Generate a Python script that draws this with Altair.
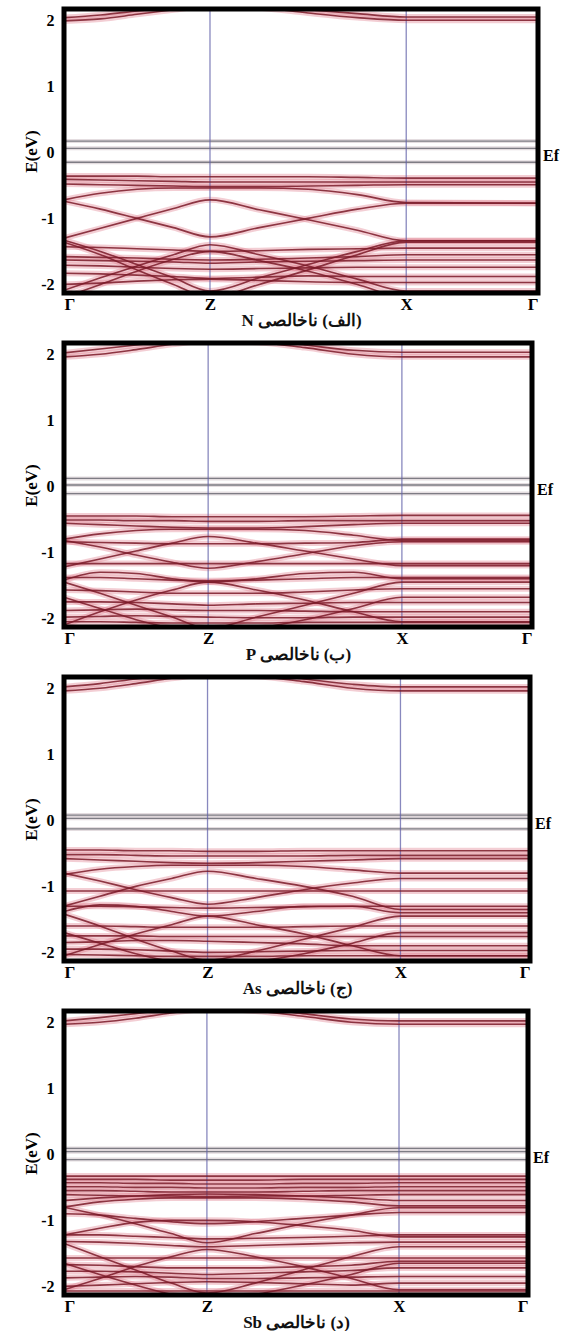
import altair as alt
import pandas as pd

# k-path sample positions (Γ ... Z ... X, then flat to Γ)
K = [0.0, 0.077, 0.154, 0.231, 0.308, 0.412, 0.515, 0.619, 0.722, 1.0]
K_TICKS = [0.0, 0.308, 0.722, 1.0]
K_NAMES = ["Γ", "Z", "X", "Γ"]
Y_TICKS = [-2, -1, 0, 1, 2]

# ---------- panel (الف) N ----------
N_GRAY = [0.17, 0.06, -0.15]
N_COND = [
    [2.04, 2.08, 2.14, 2.20, 2.25, 2.22, 2.16, 2.10, 2.05, 2.05],
    [1.99, 2.02, 2.09, 2.16, 2.22, 2.19, 2.11, 2.04, 2.00, 2.00],
]
N_BANDS = [
    [-0.36, -0.36, -0.36, -0.37, -0.37, -0.37, -0.37, -0.38, -0.39, -0.39],
    [-0.41, -0.42, -0.43, -0.44, -0.45, -0.45, -0.45, -0.45, -0.45, -0.45],
    [-0.48, -0.49, -0.50, -0.51, -0.52, -0.52, -0.51, -0.50, -0.49, -0.49],
    [-0.72, -0.62, -0.56, -0.54, -0.54, -0.54, -0.56, -0.64, -0.76, -0.77],
    [-0.74, -0.86, -1.00, -1.14, -1.28, -1.14, -1.00, -0.86, -0.77, -0.77],
    [-1.30, -1.15, -1.00, -0.85, -0.72, -0.87, -1.02, -1.18, -1.34, -1.34],
    [-1.33, -1.50, -1.70, -1.90, -2.10, -1.90, -1.70, -1.50, -1.34, -1.34],
    [-2.09, -1.90, -1.72, -1.55, -1.40, -1.55, -1.72, -1.92, -2.10, -2.10],
    [-1.43, -1.44, -1.46, -1.48, -1.50, -1.49, -1.47, -1.46, -1.45, -1.45],
    [-1.58, -1.59, -1.60, -1.62, -1.63, -1.62, -1.60, -1.58, -1.55, -1.55],
    [-1.71, -1.72, -1.74, -1.76, -1.77, -1.76, -1.75, -1.74, -1.74, -1.74],
    [-1.83, -1.84, -1.86, -1.88, -1.91, -1.89, -1.87, -1.88, -1.88, -1.88],
    [-2.00, -1.98, -1.95, -1.93, -1.92, -1.94, -1.96, -1.97, -1.97, -1.97],
    [-1.36, -1.55, -1.78, -2.00, -2.20, -2.00, -1.78, -1.55, -1.36, -1.36],
    [-2.20, -2.00, -1.80, -1.62, -1.50, -1.64, -1.80, -2.00, -2.20, -2.20],
    [-1.63, -1.64, -1.65, -1.66, -1.68, -1.66, -1.65, -1.64, -1.63, -1.63],
]

# ---------- panel (ب) P ----------
P_GRAY = [0.12, 0.02, -0.11]
P_COND = [
    [2.02, 2.08, 2.14, 2.20, 2.25, 2.22, 2.14, 2.06, 2.03, 2.03],
    [1.96, 2.00, 2.07, 2.15, 2.20, 2.18, 2.10, 2.00, 1.96, 1.96],
]
P_BANDS = [
    [-0.45, -0.45, -0.45, -0.46, -0.46, -0.46, -0.46, -0.45, -0.44, -0.44],
    [-0.51, -0.51, -0.52, -0.52, -0.53, -0.53, -0.52, -0.52, -0.52, -0.52],
    [-0.56, -0.58, -0.60, -0.62, -0.63, -0.63, -0.61, -0.58, -0.56, -0.56],
    [-0.80, -0.72, -0.67, -0.65, -0.65, -0.65, -0.67, -0.74, -0.82, -0.82],
    [-0.82, -0.92, -1.04, -1.15, -1.24, -1.14, -1.02, -0.90, -0.84, -0.84],
    [-1.22, -1.10, -0.98, -0.86, -0.76, -0.86, -0.98, -1.10, -1.20, -1.20],
    [-0.84, -0.85, -0.86, -0.87, -0.87, -0.87, -0.86, -0.85, -0.80, -0.80],
    [-1.17, -1.17, -1.17, -1.17, -1.17, -1.17, -1.17, -1.17, -1.17, -1.17],
    [-1.42, -1.30, -1.32, -1.40, -1.45, -1.40, -1.32, -1.30, -1.40, -1.40],
    [-1.45, -1.62, -1.80, -1.98, -2.15, -1.98, -1.80, -1.62, -1.45, -1.45],
    [-2.10, -1.90, -1.72, -1.57, -1.45, -1.57, -1.72, -1.90, -2.05, -2.05],
    [-1.57, -1.58, -1.60, -1.62, -1.62, -1.62, -1.60, -1.57, -1.55, -1.55],
    [-1.75, -1.75, -1.76, -1.78, -1.80, -1.78, -1.77, -1.76, -1.76, -1.76],
    [-1.88, -1.87, -1.86, -1.87, -1.88, -1.88, -1.89, -1.90, -1.90, -1.90],
    [-1.98, -1.97, -1.96, -1.97, -1.98, -1.99, -1.99, -1.98, -1.98, -1.98],
    [-1.68, -1.85, -2.02, -2.15, -2.25, -2.15, -2.02, -1.85, -1.68, -1.68],
    [-2.05, -2.05, -2.06, -2.07, -2.07, -2.07, -2.06, -2.06, -2.06, -2.06],
    [-1.38, -1.38, -1.40, -1.42, -1.43, -1.42, -1.40, -1.38, -1.38, -1.38],
]

# ---------- panel (ج) As ----------
AS_GRAY = [0.08, 0.03, -0.13]
AS_COND = [
    [2.02, 2.07, 2.14, 2.20, 2.25, 2.22, 2.14, 2.06, 2.02, 2.02],
    [1.96, 2.00, 2.07, 2.15, 2.20, 2.18, 2.10, 2.00, 1.96, 1.96],
]
AS_BANDS = [
    [-0.45, -0.45, -0.46, -0.46, -0.47, -0.47, -0.46, -0.46, -0.46, -0.46],
    [-0.52, -0.52, -0.53, -0.54, -0.54, -0.54, -0.54, -0.53, -0.53, -0.53],
    [-0.58, -0.60, -0.62, -0.64, -0.65, -0.64, -0.62, -0.60, -0.58, -0.58],
    [-0.82, -0.74, -0.70, -0.68, -0.68, -0.68, -0.70, -0.75, -0.80, -0.80],
    [-0.80, -0.92, -1.05, -1.17, -1.27, -1.17, -1.05, -0.95, -0.88, -0.88],
    [-1.30, -1.15, -1.00, -0.88, -0.77, -0.88, -1.00, -1.15, -1.35, -1.35],
    [-1.07, -1.07, -1.07, -1.07, -1.07, -1.07, -1.07, -1.07, -1.07, -1.07],
    [-1.38, -1.28, -1.30, -1.38, -1.45, -1.38, -1.30, -1.30, -1.40, -1.40],
    [-1.42, -1.60, -1.80, -1.98, -2.12, -1.98, -1.80, -1.62, -1.45, -1.45],
    [-2.05, -1.88, -1.72, -1.58, -1.45, -1.58, -1.72, -1.90, -2.05, -2.05],
    [-1.60, -1.60, -1.61, -1.62, -1.62, -1.62, -1.61, -1.60, -1.60, -1.60],
    [-1.75, -1.75, -1.75, -1.76, -1.76, -1.76, -1.76, -1.76, -1.76, -1.76],
    [-1.85, -1.84, -1.82, -1.82, -1.83, -1.85, -1.87, -1.90, -1.90, -1.90],
    [-1.95, -1.95, -1.96, -1.98, -2.00, -1.99, -1.98, -1.97, -1.97, -1.97],
    [-1.70, -1.86, -2.02, -2.14, -2.22, -2.14, -2.02, -1.86, -1.70, -1.70],
    [-2.03, -2.04, -2.05, -2.06, -2.06, -2.06, -2.05, -2.05, -2.05, -2.05],
    [-1.30, -1.30, -1.31, -1.32, -1.33, -1.32, -1.31, -1.30, -1.30, -1.30],
]

# ---------- panel (د) Sb ----------
SB_GRAY = [0.09, 0.04, -0.08]
SB_COND = [
    [2.02, 2.07, 2.13, 2.19, 2.24, 2.21, 2.13, 2.05, 2.02, 2.02],
    [1.97, 2.00, 2.06, 2.14, 2.20, 2.17, 2.09, 2.00, 1.97, 1.97],
]
SB_BANDS = [
    [-0.33, -0.33, -0.33, -0.33, -0.33, -0.33, -0.33, -0.33, -0.33, -0.33],
    [-0.38, -0.38, -0.38, -0.39, -0.39, -0.39, -0.38, -0.38, -0.38, -0.38],
    [-0.43, -0.43, -0.44, -0.44, -0.45, -0.45, -0.44, -0.44, -0.43, -0.43],
    [-0.49, -0.49, -0.50, -0.50, -0.51, -0.51, -0.50, -0.50, -0.49, -0.49],
    [-0.55, -0.55, -0.56, -0.57, -0.57, -0.57, -0.56, -0.55, -0.55, -0.55],
    [-0.61, -0.62, -0.63, -0.63, -0.64, -0.63, -0.63, -0.62, -0.61, -0.61],
    [-0.70, -0.66, -0.63, -0.61, -0.60, -0.61, -0.63, -0.66, -0.70, -0.70],
    [-0.80, -0.72, -0.68, -0.66, -0.66, -0.66, -0.68, -0.72, -0.78, -0.78],
    [-0.80, -0.92, -1.05, -1.20, -1.34, -1.20, -1.05, -0.92, -0.81, -0.81],
    [-1.22, -1.12, -1.03, -1.00, -1.00, -1.02, -1.08, -1.15, -1.25, -1.25],
    [-0.90, -0.92, -0.97, -1.02, -1.05, -1.02, -0.97, -0.92, -0.88, -0.88],
    [-1.32, -1.33, -1.35, -1.38, -1.40, -1.38, -1.36, -1.34, -1.33, -1.33],
    [-1.35, -1.55, -1.75, -1.95, -2.10, -1.95, -1.75, -1.55, -1.40, -1.40],
    [-2.05, -1.88, -1.70, -1.55, -1.44, -1.55, -1.70, -1.88, -2.05, -2.05],
    [-1.57, -1.57, -1.57, -1.57, -1.57, -1.57, -1.57, -1.57, -1.57, -1.57],
    [-1.67, -1.68, -1.70, -1.72, -1.72, -1.72, -1.70, -1.68, -1.62, -1.62],
    [-1.77, -1.77, -1.78, -1.80, -1.82, -1.80, -1.78, -1.76, -1.72, -1.72],
    [-1.87, -1.86, -1.85, -1.86, -1.88, -1.88, -1.87, -1.86, -1.85, -1.85],
    [-2.00, -1.98, -1.96, -1.94, -1.93, -1.94, -1.96, -1.98, -1.95, -1.95],
    [-1.65, -1.82, -1.98, -2.12, -2.20, -2.12, -1.98, -1.82, -1.65, -1.65],
    [-2.07, -2.07, -2.07, -2.07, -2.07, -2.07, -2.07, -2.07, -2.07, -2.07],
    [-1.22, -1.22, -1.24, -1.26, -1.28, -1.27, -1.26, -1.24, -1.22, -1.22],
]

CAPTIONS = [
    "N \u202b(الف) ناخالصی\u202c",
    "P \u202b(ب) ناخالصی\u202c",
    "As \u202b(ج) ناخالصی\u202c",
    "Sb \u202b(د) ناخالصی\u202c",
]

SERIF = "Liberation Serif"
W = [474, 468, 466, 464]
H = 284


def panel(bands, cond, gray, caption, width):
    rows = []
    for i, b in enumerate(bands + cond):
        for k, e in zip(K, b):
            rows.append({"band": i, "k": k, "E": e})
    df = pd.DataFrame(rows)

    x = alt.X(
        "k:Q",
        scale=alt.Scale(domain=[0, 1], nice=False, zero=False),
        axis=alt.Axis(
            values=K_TICKS,
            labelExpr="datum.value < 0.1 ? 'Γ' : datum.value < 0.5 ? 'Z' : datum.value < 0.9 ? 'X' : 'Γ'",
            labelFlush=True,
            ticks=False,
            tickSize=0,
            domain=False,
            grid=False,
            labelFont=SERIF,
            labelFontSize=17,
            labelFontWeight="bold",
            labelColor="black",
            labelPadding=3,
            title=caption,
            titleFont=SERIF,
            titleFontSize=17,
            titleFontWeight="bold",
            titleColor="#111111",
            titlePadding=0,
        ),
    )
    y = alt.Y(
        "E:Q",
        scale=alt.Scale(domain=[-2.13, 2.17], nice=False, zero=False),
        axis=alt.Axis(
            values=Y_TICKS,
            labelExpr="'' + datum.value",
            ticks=False,
            tickSize=0,
            domain=False,
            grid=False,
            labelFont=SERIF,
            labelFontSize=16,
            labelFontWeight="bold",
            labelColor="black",
            labelPadding=10,
            title="E(eV)",
            titleFont=SERIF,
            titleFontSize=17,
            titleFontWeight="bold",
            titleColor="black",
            titlePadding=0,
        ),
    )

    base = alt.Chart(df).encode(x=x, y=y, detail="band:N")
    halo = base.mark_line(color="#e07f8d", strokeWidth=6, opacity=0.38,
                          interpolate="monotone", clip=True)
    core = base.mark_line(color="#7a1a28", strokeWidth=1.6, opacity=0.85,
                          interpolate="monotone", clip=True)

    gdf = pd.DataFrame({"E": gray})
    ghalo = alt.Chart(gdf).mark_rule(color="#d9cfd3", strokeWidth=4, opacity=0.7).encode(y=y)
    gline = alt.Chart(gdf).mark_rule(color="#7e7c84", strokeWidth=1.3).encode(y=y)

    vdf = pd.DataFrame({"k": [K_TICKS[1], K_TICKS[2]]})
    vlines = alt.Chart(vdf).mark_rule(color="#6060a8", strokeWidth=1.3, opacity=0.75).encode(x=x)

    edf = pd.DataFrame({"k": [1.0], "E": [-0.06]})
    ef = alt.Chart(edf).mark_text(text="Ef", align="left", baseline="middle", dx=5,
                                  font=SERIF, fontSize=16, fontWeight="bold",
                                  color="black").encode(x=x, y=y)

    frame = alt.Chart(pd.DataFrame({"a": [0]})).mark_rect(
        filled=False, stroke="black", strokeWidth=5
    ).encode(x=alt.value(0), x2=alt.value(width), y=alt.value(0), y2=alt.value(H))

    return alt.layer(halo, ghalo, gline, vlines, core, ef, frame).properties(
        width=width, height=H
    )


chart = alt.vconcat(
    panel(N_BANDS, N_COND, N_GRAY, CAPTIONS[0], W[0]),
    panel(P_BANDS, P_COND, P_GRAY, CAPTIONS[1], W[1]),
    panel(AS_BANDS, AS_COND, AS_GRAY, CAPTIONS[2], W[2]),
    panel(SB_BANDS, SB_COND, SB_GRAY, CAPTIONS[3], W[3]),
    spacing=50,
    bounds="flush",
).properties(
    padding={"left": 22, "top": 6, "right": 2, "bottom": 2},
    background="white",
).configure_view(stroke=None)

chart.save("out.html", embed_options={"renderer": "svg", "actions": False})
